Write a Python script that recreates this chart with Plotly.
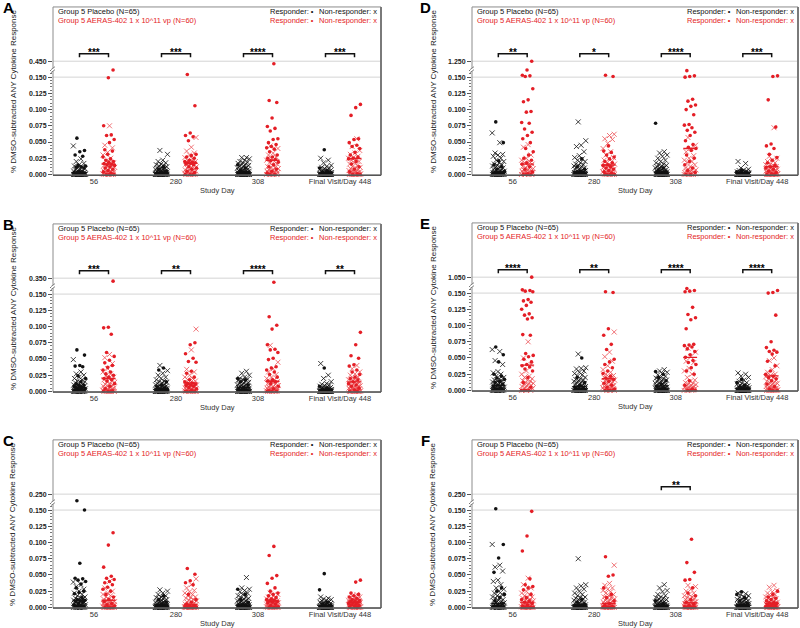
import plotly.graph_objects as go

# ---------------- data (values in % DMSO-subtracted response) ----------------
DAYS = ["56", "280", "308", "Final Visit/Day 448"]
PANELS = ["A", "B", "C", "D", "E", "F"]
TOP_TICK = {"A": 0.450, "B": 0.350, "C": 0.250, "D": 1.250, "E": 1.050, "F": 0.250}
LOW_TICKS = [0.000, 0.025, 0.050, 0.075, 0.100, 0.125, 0.150]
SIG = {"A": ["***", "***", "****", "***"], "B": ["***", "**", "****", "**"],
       "C": ["", "", "", ""], "D": ["**", "*", "****", "***"],
       "E": ["****", "**", "****", "****"], "F": ["", "", "**", ""]}
LEG_PLA = "Group 5 Placebo (N=65)"
LEG_VAC = "Group 5 AERAS-402 1 x 10^11 vp (N=60)"

# Panel A
A_PLA_R = [[.056,.037,.035,.030,.028,.014,.013,.012,.011,.010,.005,.003,.002,.001,0,0,0,0,0,0,0,0],
           [.012,.008,.005,.003,.002,.001,0,0,0,0,0,0,0,0,0,0],
           [.015,.010,.006,.003,.002,.001,0,0,0,0,0,0,0,0],
           [.038,.010,.006,.003,.002,.001,0,0,0,0,0,0,0,0,0,0]]
A_PLA_N = [[.044,.024,.020,.017,.015,.013,.012,.010,.009,.008,.007,.006,.005,.005,.004,.004,.003,.003,.002,.002,.002,.001,.001,.001,0,0,0,0,0,0,0,0,0,0,0,0,0,0,0,0,0,0,0],
           [.037,.031,.022,.020,.018,.016,.015,.014,.013,.012,.011,.010,.010,.009,.008,.008,.007,.006,.006,.005,.005,.004,.004,.003,.003,.003,.002,.002,.002,.001,.001,.001,.001,0,0,0,0,0,0,0,0,0,0,0,0,0,0,0,0],
           [.026,.026,.024,.022,.020,.019,.018,.017,.016,.015,.014,.013,.012,.011,.010,.010,.009,.008,.008,.007,.006,.006,.005,.005,.004,.004,.003,.003,.003,.002,.002,.002,.001,.001,.001,.001,0,0,0,0,0,0,0,0,0,0,0,0,0,0,0],
           [.025,.022,.018,.014,.012,.011,.010,.009,.008,.007,.006,.006,.005,.005,.004,.004,.003,.003,.003,.002,.002,.002,.001,.001,.001,.001,0,0,0,0,0,0,0,0,0,0,0,0,0,0,0,0,0,0,0,0,0,0,0]]
A_VAC_R = [[.161,.149,.075,.061,.060,.054,.049,.038,.036,.031,.027,.024,.022,.020,.019,.017,.016,.015,.014,.012,.010,.008,.006,.004,.002,0,0,0],
           [.154,.106,.064,.060,.058,.052,.031,.029,.027,.025,.022,.020,.019,.018,.018,.017,.016,.015,.012,.010,.008,.005,.003,0,0,0],
           [.425,.114,.111,.087,.074,.071,.067,.055,.054,.049,.046,.043,.041,.039,.035,.030,.027,.025,.023,.021,.019,.015,.012,.008,.005,.002,0,0],
           [.108,.103,.091,.055,.054,.049,.045,.043,.040,.034,.030,.027,.025,.024,.020,.016,.012,.008,.004,.001,0,0]]
A_VAC_N = [[.075,.045,.041,.034,.030,.025,.021,.018,.016,.014,.013,.012,.011,.010,.009,.008,.007,.006,.005,.005,.004,.003,.003,.002,.002,.001,.001,0,0,0,0,0],
           [.057,.042,.036,.033,.030,.026,.024,.022,.020,.018,.016,.014,.013,.012,.011,.010,.009,.008,.007,.006,.005,.005,.004,.003,.003,.002,.002,.001,.001,0,0,0,0,0],
           [.044,.040,.033,.030,.027,.025,.022,.020,.018,.016,.014,.012,.011,.010,.009,.008,.007,.006,.005,.005,.004,.003,.003,.002,.002,.001,.001,0,0,0,0,0],
           [.055,.043,.037,.033,.031,.028,.026,.025,.024,.022,.020,.018,.016,.014,.012,.011,.010,.009,.008,.007,.006,.005,.005,.004,.003,.003,.002,.002,.001,.001,0,0,0,0,0,0,0,0]]
A_MED_PLA = [.003, .002, .004, .002]
A_MED_VAC = [.016, .0175, .022, .0245]

# Panel B
B_PLA_R = [[.064,.056,.040,.039,.038,.024,.020,.015,.012,.010,.009,.008,.006,.005,.004,.003,.002,.001,0,0,0,0,0,0],
           [.036,.033,.015,.010,.007,.005,.003,.002,.001,0,0,0,0,0,0,0],
           [.020,.018,.015,.010,.006,.003,.001,0,0,0,0,0,0,0,0],
           [.036,.008,.005,.003,.002,.001,0,0,0,0,0,0,0,0,0]]
B_PLA_N = [[.049,.030,.027,.025,.022,.020,.018,.016,.015,.014,.013,.012,.011,.010,.009,.008,.008,.007,.006,.005,.005,.004,.004,.003,.003,.002,.002,.001,.001,.001,0,0,0,0,0,0,0,0,0,0,0],
           [.040,.032,.028,.025,.022,.020,.018,.016,.015,.014,.013,.012,.011,.010,.010,.009,.008,.008,.007,.006,.006,.005,.005,.004,.004,.003,.003,.003,.002,.002,.002,.001,.001,.001,0,0,0,0,0,0,0,0,0,0,0,0,0,0,0],
           [.031,.028,.025,.022,.020,.019,.018,.017,.016,.015,.014,.013,.012,.011,.010,.010,.009,.008,.008,.007,.006,.006,.005,.005,.004,.004,.003,.003,.003,.002,.002,.002,.001,.001,.001,.001,0,0,0,0,0,0,0,0,0,0,0,0,0,0],
           [.043,.025,.020,.015,.012,.011,.010,.009,.008,.007,.006,.006,.005,.005,.004,.004,.003,.003,.003,.002,.002,.002,.002,.001,.001,.001,.001,0,0,0,0,0,0,0,0,0,0,0,0,0,0,0,0,0,0,0,0,0,0,0]]
B_VAC_R = [[.327,.099,.098,.088,.060,.054,.048,.044,.040,.037,.033,.030,.027,.025,.022,.020,.018,.016,.012,.008,.004,.001,0,0,0],
           [.162,.075,.072,.058,.051,.046,.045,.031,.028,.022,.018,.015,.013,.012,.011,.010,.009,.008,.006,.004,.002,0,0,0,0],
           [.319,.115,.102,.096,.072,.065,.064,.060,.051,.049,.038,.036,.033,.030,.026,.022,.018,.016,.015,.012,.008,.004,.001,0,0,0],
           [.091,.072,.055,.051,.041,.039,.033,.030,.026,.022,.020,.018,.015,.012,.010,.008,.005,.002,0,0]]
B_VAC_N = [[.057,.052,.043,.035,.030,.027,.024,.022,.020,.018,.016,.015,.014,.012,.011,.010,.009,.008,.007,.006,.005,.005,.004,.003,.003,.002,.002,.001,.001,0,0,0,0,0,0],
           [.096,.064,.034,.030,.025,.022,.020,.018,.016,.014,.013,.012,.011,.010,.009,.008,.007,.006,.005,.005,.004,.004,.003,.003,.002,.002,.001,.001,.001,0,0,0,0,0,0],
           [.071,.045,.035,.030,.026,.022,.020,.018,.016,.015,.014,.012,.011,.010,.009,.008,.007,.006,.005,.005,.004,.004,.003,.003,.002,.002,.001,.001,.001,0,0,0,0,0],
           [.040,.035,.030,.027,.025,.022,.020,.018,.016,.015,.014,.013,.012,.011,.010,.009,.008,.007,.007,.006,.005,.005,.004,.004,.003,.003,.002,.002,.001,.001,.001,0,0,0,0,0,0,0,0,0]]
B_MED_PLA = [.006, .004, .006, .002]
B_MED_VAC = [.020, .013, .0157, .0147]

# Panel C
C_PLA_R = [[.213,.150,.068,.045,.044,.042,.040,.036,.030,.025,.023,.021,.015,.012,.011,.010,.009,.008,.006,.004,.002,.001,0,0,0,0],
           [.018,.012,.008,.005,.003,.002,.001,0,0,0,0,0,0,0,0,0],
           [.028,.020,.012,.008,.004,.002,.001,0,0,0,0,0,0,0,0],
           [.052,.027,.008,.005,.003,.002,.001,0,0,0,0,0,0,0]]
C_PLA_N = [[.039,.035,.032,.028,.025,.022,.020,.018,.016,.015,.014,.013,.012,.011,.010,.009,.008,.007,.006,.006,.005,.004,.004,.003,.003,.002,.002,.001,.001,.001,0,0,0,0,0,0,0,0,0],
           [.027,.025,.022,.020,.018,.016,.015,.014,.013,.012,.011,.010,.010,.009,.008,.008,.007,.006,.006,.005,.005,.004,.004,.003,.003,.003,.002,.002,.002,.001,.001,.001,.001,0,0,0,0,0,0,0,0,0,0,0,0,0,0,0,0],
           [.046,.030,.028,.026,.024,.022,.020,.018,.016,.015,.014,.013,.012,.011,.010,.010,.009,.008,.007,.006,.006,.005,.005,.004,.004,.003,.003,.002,.002,.002,.001,.001,.001,0,0,0,0,0,0,0,0,0,0,0,0,0,0,0,0,0],
           [.016,.014,.013,.012,.011,.010,.009,.008,.008,.007,.006,.006,.005,.005,.004,.004,.004,.003,.003,.003,.002,.002,.002,.002,.001,.001,.001,.001,.001,0,0,0,0,0,0,0,0,0,0,0,0,0,0,0,0,0,0,0,0,0,0]]
C_VAC_R = [[.115,.096,.062,.048,.045,.043,.040,.038,.035,.031,.028,.025,.020,.016,.012,.009,.006,.004,.002,0,0,0,0],
           [.060,.051,.041,.038,.035,.020,.012,.008,.005,.003,.002,.001,0,0,0,0,0,0,0,0],
           [.094,.080,.049,.045,.037,.030,.025,.022,.020,.018,.015,.013,.012,.011,.010,.009,.008,.007,.005,.003,.001,0,0,0],
           [.042,.039,.022,.020,.018,.016,.014,.012,.011,.010,.009,.008,.007,.006,.005,.004,.003,.002,.001,0]]
C_VAC_N = [[.040,.030,.025,.022,.020,.018,.016,.014,.013,.012,.011,.010,.009,.008,.008,.007,.006,.006,.005,.005,.004,.004,.003,.003,.002,.002,.001,.001,.001,0,0,0,0,0,0,0,0],
           [.044,.035,.030,.026,.024,.022,.020,.018,.016,.015,.014,.012,.011,.010,.009,.008,.007,.006,.005,.005,.004,.004,.003,.003,.002,.002,.001,.001,.001,.001,0,0,0,0,0,0,0,0,0,0],
           [.022,.020,.018,.016,.015,.014,.013,.012,.011,.010,.009,.008,.008,.007,.007,.006,.006,.005,.005,.004,.004,.003,.003,.002,.002,.002,.001,.001,.001,0,0,0,0,0,0,0],
           [.020,.018,.016,.015,.014,.013,.012,.011,.010,.010,.009,.009,.008,.008,.007,.007,.006,.006,.005,.005,.004,.004,.003,.003,.003,.002,.002,.002,.001,.001,.001,0,0,0,0,0,0,0,0,0]]
C_MED_PLA = [.011, .004, .005, .002]
C_MED_VAC = [.011, .004, .010, .008]

# Panel D
D_PLA_R = [[.081,.049,.021,.015,.012,.008,.005,.003,.002,.001,0,0,0,0,0,0,0,0,0,0],
           [.024,.012,.008,.005,.003,.002,.001,0,0,0,0,0,0,0,0,0,0,0],
           [.079,.010,.006,.004,.002,.001,0,0,0,0,0,0,0,0,0,0],
           [.006,.004,.002,.001,0,0,0,0,0,0,0,0,0,0]]
D_PLA_N = [[.064,.049,.033,.031,.030,.028,.025,.022,.020,.018,.016,.015,.014,.013,.012,.011,.010,.009,.008,.007,.006,.005,.005,.004,.004,.003,.003,.002,.002,.001,.001,.001,0,0,0,0,0,0,0,0,0,0,0,0,0],
           [.081,.052,.045,.043,.035,.029,.026,.024,.022,.020,.018,.016,.015,.014,.013,.012,.011,.010,.009,.008,.007,.006,.006,.005,.004,.004,.003,.003,.002,.002,.001,.001,.001,0,0,0,0,0,0,0,0,0,0,0,0,0,0],
           [.035,.033,.030,.028,.025,.022,.020,.018,.016,.015,.014,.013,.012,.011,.010,.010,.009,.008,.007,.007,.006,.005,.005,.004,.004,.003,.003,.002,.002,.002,.001,.001,.001,0,0,0,0,0,0,0,0,0,0,0,0,0,0,0,0],
           [.020,.017,.010,.008,.007,.006,.005,.005,.004,.004,.003,.003,.003,.002,.002,.002,.002,.001,.001,.001,.001,.001,0,0,0,0,0,0,0,0,0,0,0,0,0,0,0,0,0,0,0,0,0,0,0,0,0,0,0,0,0]]
D_VAC_R = [[1.250,.161,.153,.152,.151,.132,.115,.112,.097,.096,.080,.079,.070,.065,.060,.055,.049,.040,.035,.030,.025,.022,.018,.016,.012,.008,.004,.001,0,0,0],
           [.153,.151,.044,.036,.034,.030,.027,.024,.020,.018,.015,.014,.012,.010,.008,.006,.004,.002,0,0,0,0],
           [.162,.160,.152,.151,.150,.116,.113,.107,.105,.100,.092,.077,.076,.072,.068,.065,.060,.052,.046,.042,.040,.037,.030,.025,.020,.015,.010,.006,.003,0,0],
           [.152,.151,.115,.073,.047,.044,.040,.031,.026,.022,.018,.014,.012,.010,.008,.005,.003,.001,0,0]]
D_VAC_N = [[.046,.042,.030,.025,.022,.020,.018,.016,.014,.012,.011,.010,.009,.008,.007,.006,.005,.005,.004,.003,.003,.002,.002,.001,.001,0,0,0,0],
           [.062,.060,.055,.054,.048,.040,.035,.030,.026,.024,.022,.020,.018,.016,.015,.014,.013,.012,.011,.010,.009,.008,.007,.006,.005,.005,.004,.003,.003,.002,.002,.001,.001,0,0,0,0,0],
           [.057,.045,.040,.035,.029,.025,.022,.020,.018,.015,.012,.010,.009,.008,.007,.006,.005,.004,.003,.003,.002,.002,.001,.001,0,0,0,0,0],
           [.072,.028,.025,.022,.020,.018,.016,.015,.014,.013,.012,.011,.010,.009,.008,.008,.007,.006,.006,.005,.005,.004,.004,.003,.003,.002,.002,.001,.001,.001,0,0,0,0,0,0,0,0,0,0]]
D_MED_PLA = [.004, .004, .004, .001]
D_MED_VAC = [.016, .0145, .040, .012]

# Panel E
E_PLA_R = [[.067,.055,.044,.025,.022,.019,.017,.014,.012,.010,.008,.006,.004,.002,0,0,0,0,0,0,0,0,0,0],
           [.050,.020,.012,.008,.005,.003,.002,.001,0,0,0,0,0,0,0,0,0,0],
           [.029,.025,.020,.015,.010,.006,.003,.001,0,0,0,0,0,0,0,0],
           [.017,.012,.008,.005,.003,.002,.001,0,0,0,0,0,0,0,0]]
E_PLA_N = [[.063,.060,.046,.040,.029,.027,.025,.022,.020,.018,.016,.015,.014,.013,.012,.011,.010,.009,.008,.007,.006,.005,.005,.004,.003,.003,.002,.002,.001,.001,0,0,0,0,0,0,0,0,0,0,0],
           [.056,.035,.034,.033,.030,.028,.026,.024,.022,.020,.018,.017,.016,.015,.014,.013,.012,.011,.010,.009,.008,.007,.006,.006,.005,.004,.004,.003,.003,.002,.002,.001,.001,0,0,0,0,0,0,0,0,0,0,0,0,0,0],
           [.032,.030,.028,.026,.024,.022,.020,.019,.018,.017,.016,.015,.014,.013,.012,.011,.010,.010,.009,.008,.007,.007,.006,.005,.005,.004,.004,.003,.003,.002,.002,.001,.001,0,0,0,0,0,0,0,0,0,0,0,0,0,0,0,0],
           [.027,.025,.022,.020,.016,.014,.012,.011,.010,.009,.008,.007,.006,.006,.005,.005,.004,.004,.003,.003,.003,.002,.002,.002,.001,.001,.001,.001,0,0,0,0,0,0,0,0,0,0,0,0,0,0,0,0,0,0,0,0,0,0]]
E_VAC_R = [[1.050,.162,.155,.154,.153,.152,.140,.138,.136,.131,.125,.118,.116,.112,.110,.086,.085,.057,.054,.052,.048,.044,.040,.038,.036,.033,.030,.020,.012,.005,0,0,0,0],
           [.152,.151,.095,.085,.071,.063,.048,.044,.040,.035,.030,.026,.022,.019,.017,.014,.011,.008,.005,.002,0,0,0,0],
           [.162,.157,.154,.153,.152,.128,.117,.112,.109,.095,.071,.070,.069,.067,.064,.060,.055,.051,.046,.043,.040,.035,.030,.025,.015,.008,.002,0,0,0],
           [.154,.151,.150,.116,.075,.066,.062,.060,.059,.056,.045,.038,.030,.025,.022,.020,.018,.015,.010,.006,.002,0,0]]
E_VAC_N = [[.075,.050,.040,.030,.025,.022,.020,.018,.016,.015,.014,.012,.011,.010,.009,.008,.007,.006,.005,.004,.003,.002,.001,0,0,0],
           [.090,.059,.052,.045,.038,.032,.028,.025,.023,.021,.020,.018,.017,.016,.015,.014,.013,.012,.011,.010,.009,.008,.007,.006,.005,.005,.004,.003,.003,.002,.002,.001,.001,0,0,0],
           [.065,.059,.052,.045,.043,.034,.030,.025,.020,.016,.014,.012,.011,.010,.009,.008,.007,.006,.005,.005,.004,.003,.003,.002,.002,.001,.001,0,0,0],
           [.050,.046,.038,.032,.028,.025,.023,.021,.020,.018,.016,.015,.014,.013,.012,.011,.010,.009,.008,.007,.006,.005,.005,.004,.003,.003,.002,.002,.001,.001,0,0,0,0,0,0,0]]
E_MED_PLA = [.008, .006, .007, .002]
E_MED_VAC = [.039, .018, .051, .0225]

# Panel F
F_PLA_R = [[.152,.097,.076,.054,.030,.025,.020,.015,.010,.006,.003,.001,0,0,0,0,0,0,0,0,0,0],
           [.012,.008,.005,.003,.002,.001,0,0,0,0,0,0,0,0,0,0],
           [.010,.006,.003,.001,0,0,0,0,0,0,0,0,0,0],
           [.024,.020,.015,.010,.006,.003,.001,0,0,0,0,0,0,0]]
F_PLA_N = [[.097,.065,.062,.056,.042,.040,.035,.030,.028,.025,.022,.020,.018,.016,.015,.014,.012,.011,.010,.009,.008,.007,.006,.005,.005,.004,.003,.003,.002,.002,.001,.001,0,0,0,0,0,0,0,0,0,0,0],
           [.075,.035,.033,.030,.028,.025,.022,.020,.018,.016,.015,.014,.013,.012,.011,.010,.009,.008,.007,.006,.005,.005,.004,.004,.003,.003,.002,.002,.001,.001,.001,0,0,0,0,0,0,0,0,0,0,0,0,0,0,0,0,0,0],
           [.035,.030,.026,.024,.020,.018,.016,.015,.014,.013,.012,.011,.010,.009,.008,.008,.007,.006,.006,.005,.005,.004,.004,.003,.003,.003,.002,.002,.002,.001,.001,.001,.001,0,0,0,0,0,0,0,0,0,0,0,0,0,0,0,0,0,0],
           [.022,.021,.020,.018,.016,.015,.014,.013,.012,.011,.010,.010,.009,.008,.008,.007,.006,.006,.005,.005,.004,.004,.003,.003,.003,.002,.002,.002,.001,.001,.001,.001,0,0,0,0,0,0,0,0,0,0,0,0,0,0,0,0,0,0,0]]
F_VAC_R = [[.148,.110,.087,.044,.035,.032,.030,.027,.020,.015,.012,.010,.008,.006,.004,.002,0,0,0,0,0,0,0,0],
           [.078,.050,.048,.030,.020,.015,.010,.006,.003,.001,0,0,0,0,0,0,0,0],
           [.105,.069,.054,.043,.042,.030,.022,.018,.012,.008,.005,.003,.001,0,0,0,0,0,0,0],
           [.025,.020,.016,.014,.012,.010,.008,.007,.006,.005,.004,.003,.002,.001,0,0,0,0,0,0]]
F_VAC_N = [[.045,.035,.030,.025,.022,.020,.018,.016,.015,.014,.012,.011,.010,.009,.008,.007,.006,.005,.005,.004,.004,.003,.003,.002,.002,.001,.001,0,0,0,0,0,0,0,0,0],
           [.065,.037,.034,.030,.028,.026,.024,.022,.020,.018,.016,.015,.014,.013,.012,.011,.010,.009,.008,.007,.006,.006,.005,.005,.004,.004,.003,.003,.002,.002,.001,.001,.001,0,0,0,0,0,0,0,0,0],
           [.034,.032,.028,.025,.022,.020,.018,.016,.015,.014,.013,.012,.011,.010,.009,.008,.008,.007,.006,.006,.005,.005,.004,.004,.003,.003,.002,.002,.002,.001,.001,.001,0,0,0,0,0,0,0,0],
           [.034,.031,.026,.024,.022,.020,.018,.016,.015,.014,.013,.012,.011,.010,.009,.008,.008,.007,.006,.006,.005,.005,.004,.004,.003,.003,.002,.002,.001,.001,.001,0,0,0,0,0,0,0,0,0]]
F_MED_PLA = [.006, .004, .003, .004]
F_MED_VAC = [.008, .006, .007, .006]

DATA = {
    "A": (A_PLA_R, A_PLA_N, A_VAC_R, A_VAC_N, A_MED_PLA, A_MED_VAC),
    "B": (B_PLA_R, B_PLA_N, B_VAC_R, B_VAC_N, B_MED_PLA, B_MED_VAC),
    "C": (C_PLA_R, C_PLA_N, C_VAC_R, C_VAC_N, C_MED_PLA, C_MED_VAC),
    "D": (D_PLA_R, D_PLA_N, D_VAC_R, D_VAC_N, D_MED_PLA, D_MED_VAC),
    "E": (E_PLA_R, E_PLA_N, E_VAC_R, E_VAC_N, E_MED_PLA, E_MED_VAC),
    "F": (F_PLA_R, F_PLA_N, F_VAC_R, F_VAC_N, F_MED_PLA, F_MED_VAC),
}

# ---------------- layout / style ----------------
W, H = 800, 628
FONT = "Liberation Sans, Arial, sans-serif"
BLACK = "#111111"
RED = "#e41e26"
RED_X = "#ec5055"
TXT = 7.5
COLX = [(53, 381), (472, 798)]
POS = {"A": (0, 176), "B": (0, 394), "C": (0, 611), "D": (1, 176), "E": (1, 393), "F": (1, 611)}
PXV = 0.15 / 97.8          # value per pixel in the lower segment
OFF = 0.177                # group offset from the day position
JW = 0.075                 # jitter half width
MW = 0.085                 # median half width


def px(x):
    return x / W


def py(y):
    return 1 - y / H


def aname(a, n):
    return a + ("axis" if n == 1 else f"axis{n}")


def aref(a, n):
    return a if n == 1 else f"{a}{n}"


fig = go.Figure()
shapes, anns = [], []
lay = {}

for k, p in enumerate(PANELS):
    col, Y0 = POS[p]
    xl, xr = COLX[col]
    top = TOP_TICK[p]
    xi, yl, yu = k + 1, 2 * k + 1, 2 * k + 2
    xr_, ylr, yur = aref("x", xi), aref("y", yl), aref("y", yu)
    low_max = (106 - 0.7) * PXV
    s_up = top * 0.022

    lay[aname("x", xi)] = dict(domain=[px(xl), px(xr)], range=[0.5, 4.5], anchor=ylr,
                               tickmode="array", tickvals=[1, 2, 3, 4], ticktext=DAYS,
                               ticks="", showgrid=False, zeroline=False, showline=False,
                               tickfont=dict(family=FONT, size=TXT, color="#333"))
    lay[aname("y", yl)] = dict(domain=[py(Y0), py(Y0 - 106)], range=[-0.7 * PXV, low_max],
                               anchor=xr_, tickmode="array", tickvals=LOW_TICKS,
                               ticktext=[f"{v:.3f}" for v in LOW_TICKS],
                               ticks="outside", ticklen=4, tickwidth=1, tickcolor="#555",
                               minor=dict(ticks="outside", ticklen=2, dtick=0.005, tick0=0,
                                          tickcolor="#777", showgrid=False),
                               showgrid=False, zeroline=False, showline=False,
                               tickfont=dict(family=FONT, size=7, color="#222", weight="bold"))
    lay[aname("y", yu)] = dict(domain=[py(Y0 - 107), py(Y0 - 119)],
                               range=[top - 7.5 * s_up, top + 4.5 * s_up], anchor=xr_,
                               tickmode="array", tickvals=[top], ticktext=[f"{top:.3f}"],
                               ticks="outside", ticklen=4, tickwidth=1, tickcolor="#555",
                               showgrid=False, zeroline=False, showline=False,
                               tickfont=dict(family=FONT, size=7, color="#222", weight="bold"))

    pla_r, pla_n, vac_r, vac_n, med_p, med_v = DATA[p]
    groups = [(pla_n, -OFF, BLACK, "x"), (pla_r, -OFF, BLACK, "dot"),
              (vac_n, OFF, RED_X, "x"), (vac_r, OFF, RED, "dot")]
    for gi, (lists, off, colr, kind) in enumerate(groups):
        xs_lo, ys_lo, xs_up, ys_up = [], [], [], []
        for d, vals in enumerate(lists):
            for j, v in enumerate(vals):
                ph = ((j * 0.61803398875 + 0.37 * d + 0.29 * gi) % 1.0) * 2 - 1
                xv = d + 1 + off + JW * ph
                if v <= low_max:
                    xs_lo.append(xv); ys_lo.append(v)
                else:
                    xs_up.append(xv); ys_up.append(v)
        if kind == "dot":
            mk = dict(symbol="circle", size=3.6, color=colr, line=dict(width=0))
        else:
            mk = dict(symbol="x-thin", size=5, color=colr, line=dict(width=0.8, color=colr))
        for xs, ys, yref in ((xs_lo, ys_lo, ylr), (xs_up, ys_up, yur)):
            if xs:
                fig.add_trace(go.Scatter(x=xs, y=ys, xaxis=xr_, yaxis=yref, mode="markers",
                                         marker=mk, cliponaxis=False, showlegend=False,
                                         hoverinfo="skip"))
    for meds, off, colr in ((med_p, -OFF, BLACK), (med_v, OFF, RED)):
        mx, my = [], []
        for d, m in enumerate(meds):
            mx += [d + 1 + off - MW, d + 1 + off + MW, None]
            my += [m, m, None]
        fig.add_trace(go.Scatter(x=mx, y=my, xaxis=xr_, yaxis=ylr, mode="lines",
                                 line=dict(color=colr, width=1.4), showlegend=False,
                                 hoverinfo="skip", cliponaxis=False))

    # gridlines at 0.150 and top tick
    shapes.append(dict(type="line", xref=f"{xr_} domain", x0=0, x1=1, yref=ylr, y0=0.15, y1=0.15,
                       line=dict(color="#d4d4d4", width=1), layer="below"))
    shapes.append(dict(type="line", xref=f"{xr_} domain", x0=0, x1=1, yref=yur, y0=top, y1=top,
                       line=dict(color="#d4d4d4", width=1), layer="below"))
    # frame
    shapes.append(dict(type="rect", xref="paper", yref="paper", x0=px(xl), x1=px(xr),
                       y0=py(Y0), y1=py(Y0 - 169), line=dict(color="#8c8c8c", width=1)))
    shapes.append(dict(type="line", xref="paper", yref="paper", x0=px(xr), x1=px(xr),
                       y0=py(Y0), y1=py(Y0 - 169), line=dict(color="#7a7a7a", width=2)))
    shapes.append(dict(type="line", xref="paper", yref="paper", x0=px(xl), x1=px(xr),
                       y0=py(Y0), y1=py(Y0), line=dict(color="#555555", width=1.5)))
    # axis break
    shapes.append(dict(type="rect", xref="paper", yref="paper", x0=px(xl - 2), x1=px(xl + 2),
                       y0=py(Y0 - 104.5), y1=py(Y0 - 107.5), fillcolor="white",
                       line=dict(width=0)))
    for dy in (0, 3):
        shapes.append(dict(type="line", xref="paper", yref="paper", x0=px(xl - 2), x1=px(xl + 2),
                           y0=py(Y0 - 103 - dy), y1=py(Y0 - 106 - dy),
                           line=dict(color="#666", width=0.8)))
    # significance brackets
    for d, sg in enumerate(SIG[p]):
        if not sg:
            continue
        c = d + 1
        shapes.append(dict(type="path", xref=xr_, yref="paper",
                           path=f"M {c - OFF},{py(Y0 - 118.5)} L {c - OFF},{py(Y0 - 122)} "
                                f"L {c + OFF},{py(Y0 - 122)} L {c + OFF},{py(Y0 - 118.5)}",
                           line=dict(color="#111", width=1.5)))
        anns.append(dict(x=c, xref=xr_, y=py(Y0 - 123), yref="paper", text=f"<b>{sg}</b>",
                         showarrow=False, yanchor="middle", xanchor="center",
                         font=dict(family=FONT, size=10, color="#000")))
    # in-frame legend
    anns.append(dict(x=px(xl + 3), y=py(Y0 - 164), xref="paper", yref="paper", text=LEG_PLA,
                     showarrow=False, xanchor="left", yanchor="middle",
                     font=dict(family=FONT, size=TXT, color=BLACK)))
    anns.append(dict(x=px(xl + 3), y=py(Y0 - 155), xref="paper", yref="paper", text=LEG_VAC,
                     showarrow=False, xanchor="left", yanchor="middle",
                     font=dict(family=FONT, size=TXT, color=RED)))
    for yy, colr in ((Y0 - 164, BLACK), (Y0 - 155, RED)):
        anns.append(dict(x=px(xr - 65), y=py(yy), xref="paper", yref="paper",
                         text="Responder: \u2022", showarrow=False, xanchor="right",
                         yanchor="middle", font=dict(family=FONT, size=TXT, color=colr)))
        anns.append(dict(x=px(xr - 2), y=py(yy), xref="paper", yref="paper",
                         text="Non-responder: x", showarrow=False, xanchor="right",
                         yanchor="middle", font=dict(family=FONT, size=TXT, color=colr)))
    # axis titles
    anns.append(dict(x=px((xl + xr) / 2), y=py(Y0 + 15), xref="paper", yref="paper",
                     text="Study Day", showarrow=False, xanchor="center", yanchor="middle",
                     font=dict(family=FONT, size=TXT, color="#333")))
    anns.append(dict(x=px(13 if col == 0 else 433), y=py(Y0 - 84.5), xref="paper", yref="paper",
                     text="% DMSO-subtracted ANY Cytokine Response", textangle=-90,
                     showarrow=False, xanchor="center", yanchor="middle",
                     font=dict(family=FONT, size=8, color="#222")))
    # panel letter
    anns.append(dict(x=px(8 if col == 0 else 425), y=py(Y0 - 168), xref="paper", yref="paper",
                     text=f"<b>{p}</b>", showarrow=False, xanchor="center", yanchor="middle",
                     font=dict(family=FONT, size=15, color="#000")))

fig.update_layout(width=W, height=H, margin=dict(l=0, r=0, t=0, b=0),
                  paper_bgcolor="white", plot_bgcolor="white",
                  shapes=shapes, annotations=anns, showlegend=False, **lay)
fig.write_html("out.html", config={"displayModeBar": False, "staticPlot": True},
               post_script="document.body.style.margin='0';"
                           "document.body.style.overflow='hidden';")
